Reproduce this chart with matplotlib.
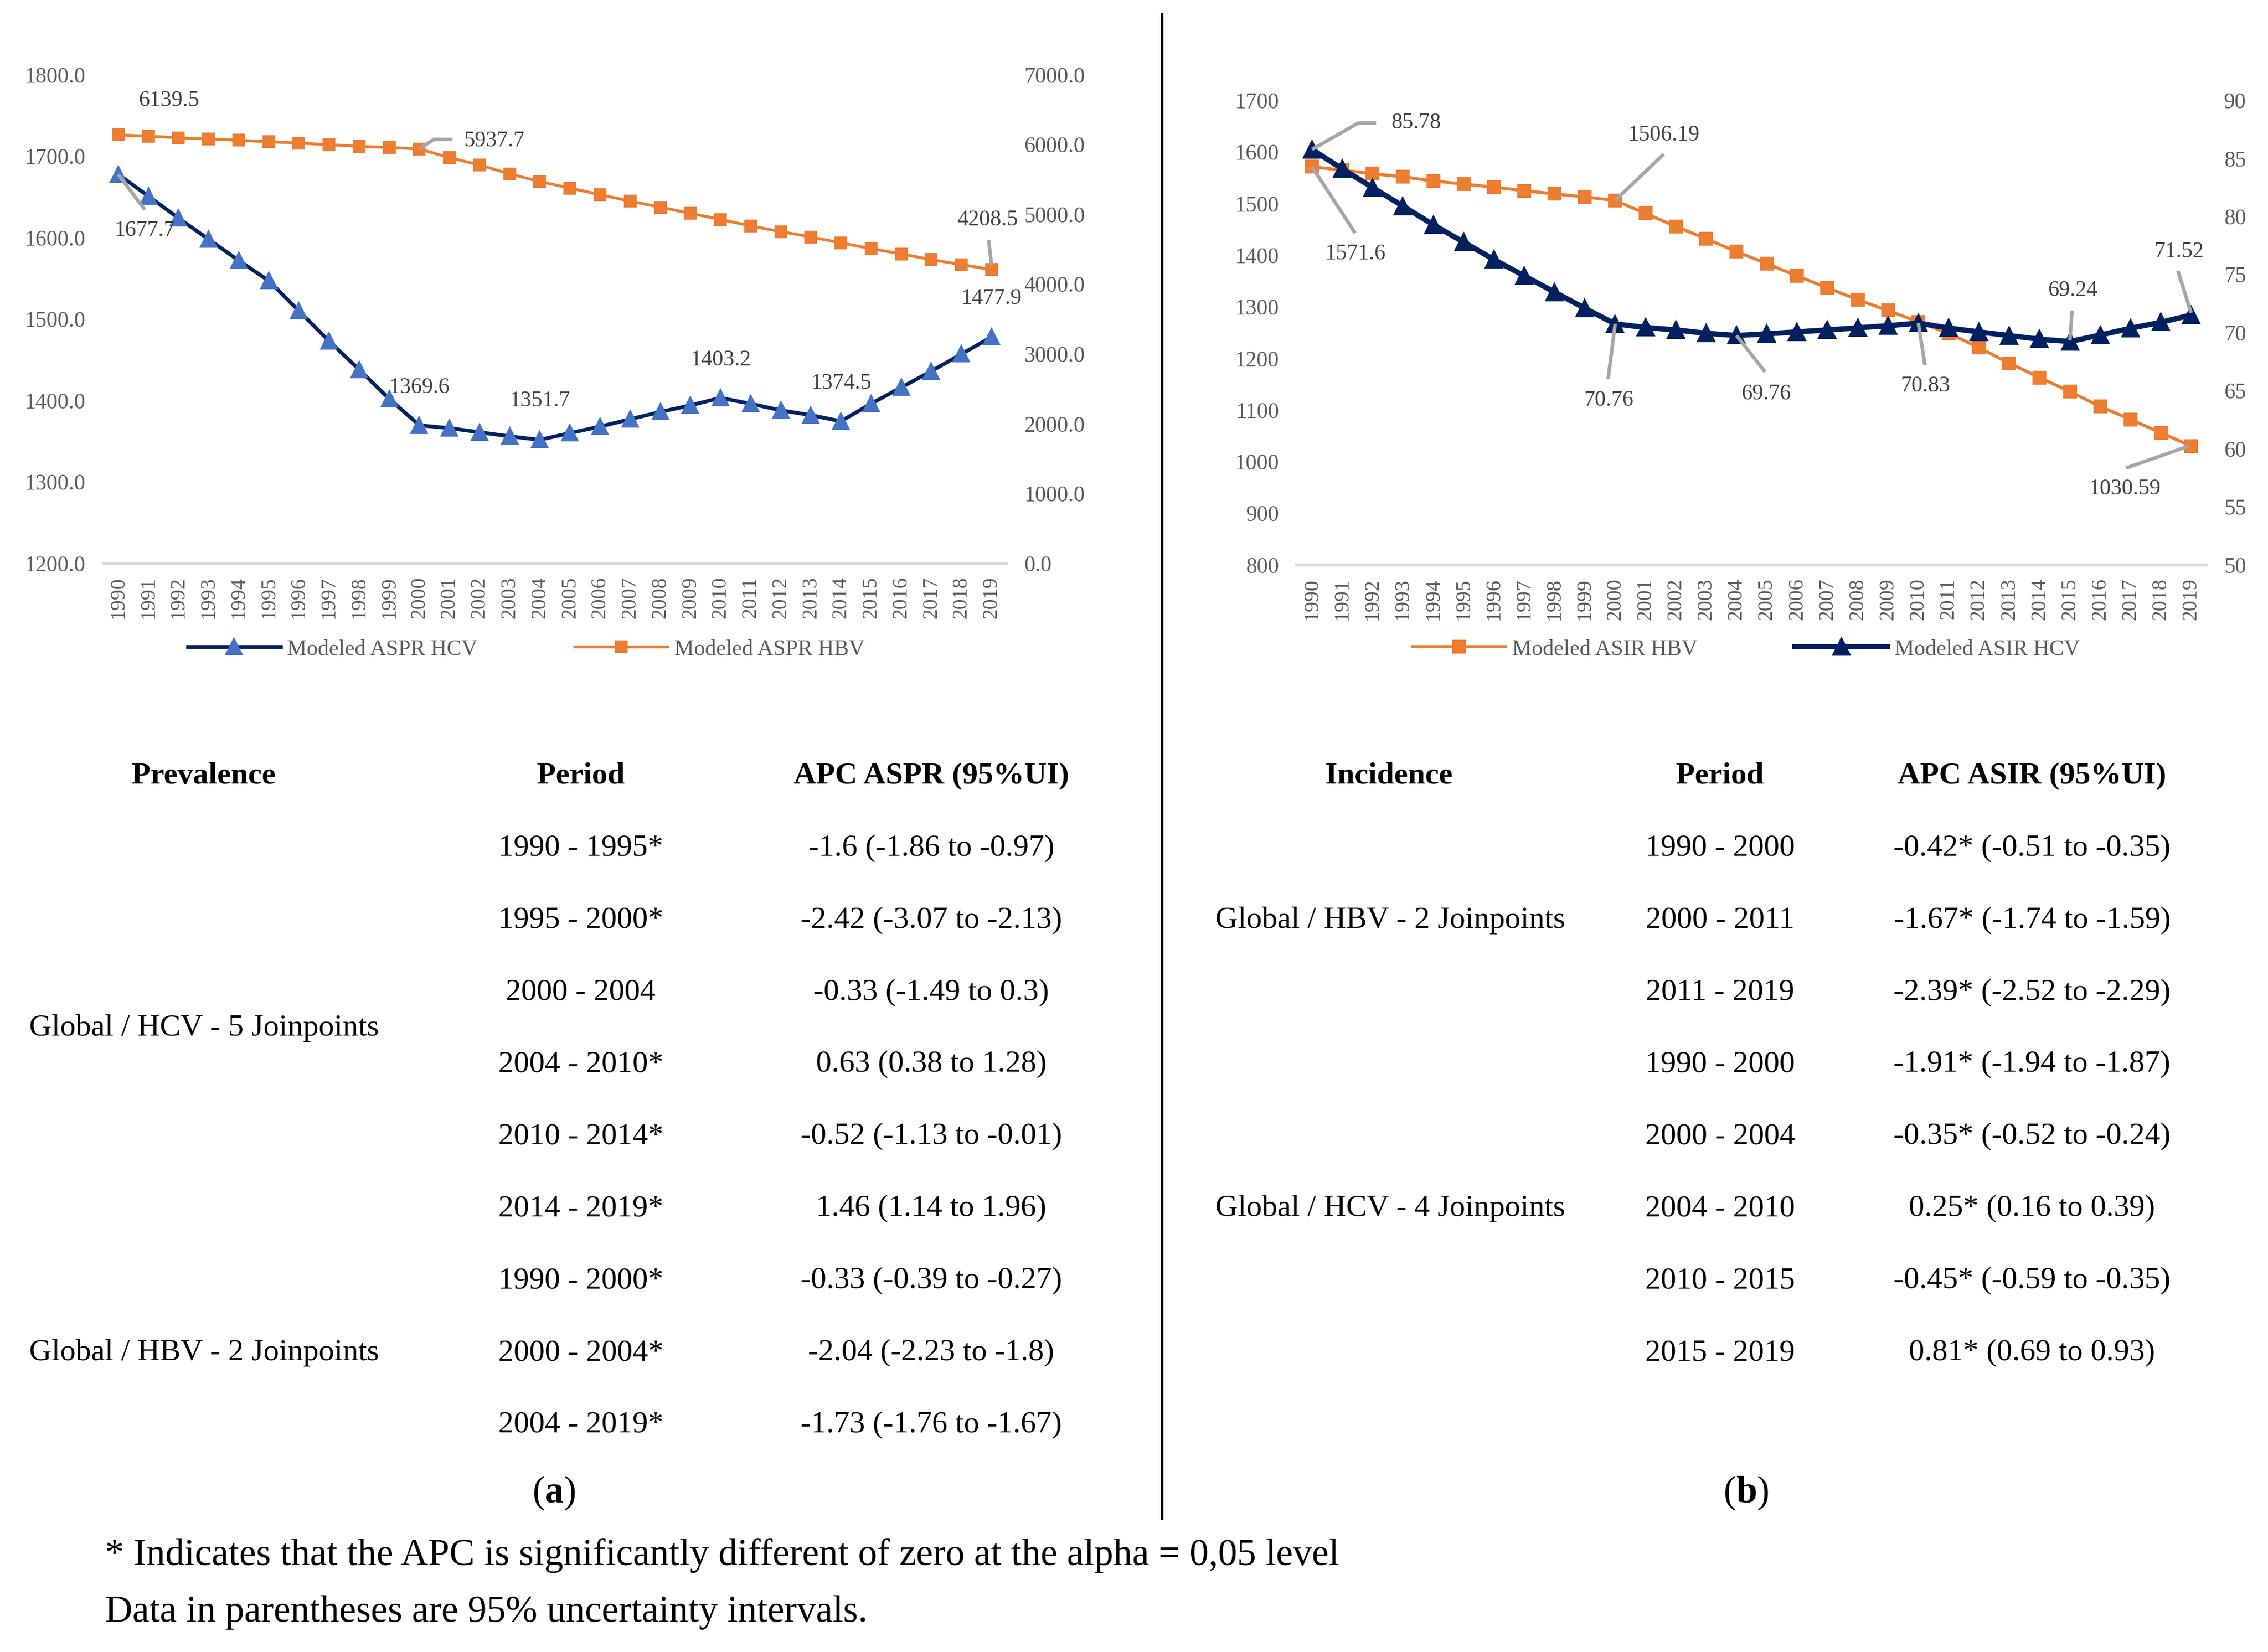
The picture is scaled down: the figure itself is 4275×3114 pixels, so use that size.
import numpy as np
import matplotlib
matplotlib.use('Agg')
import matplotlib.pyplot as plt
from matplotlib.lines import Line2D
from matplotlib.text import Annotation
from matplotlib.transforms import ScaledTranslation

plt.rcParams['font.family'] = ['Liberation Serif', 'DejaVu Serif']

# --- data ---
years = [str(y) for y in range(1990, 2020)]

aspr_hcv = [1677.7, 1651, 1624, 1598, 1572, 1547, 1510, 1473, 1438, 1402,
            1369.6, 1366, 1361, 1356, 1351.7, 1360, 1368, 1377, 1386, 1394,
            1403.2, 1396, 1388, 1382, 1374.5, 1396, 1416, 1436, 1457, 1477.9]
aspr_hbv = [6139.5, 6121, 6098, 6081, 6063, 6040, 6022, 5999, 5976, 5958,
            5937.7, 5813, 5708, 5580, 5470, 5377, 5283, 5190, 5103, 5016,
            4928, 4835, 4754, 4678, 4591, 4510, 4434, 4352, 4282, 4208.5]

asir_hbv = [1571.6, 1565, 1558, 1552, 1544, 1538, 1532, 1525, 1519, 1513,
            1506.19, 1481, 1456, 1432, 1407, 1384, 1360, 1337, 1314, 1293,
            1271, 1249, 1221, 1191, 1163, 1136, 1107, 1082, 1056, 1030.59]
asir_hcv = [85.78, 84.1, 82.5, 80.9, 79.3, 77.8, 76.3, 74.9, 73.5, 72.1,
            70.76, 70.45, 70.24, 69.95, 69.76, 69.9, 70.07, 70.24, 70.42, 70.6,
            70.83, 70.4, 70.07, 69.75, 69.44, 69.24, 69.8, 70.38, 70.9, 71.52]

prev_groups = ['Global / HCV - 5 Joinpoints', 'Global / HBV - 2 Joinpoints']
prev_group_rows = [2.5, 7]
prev_periods = ['1990 - 1995*', '1995 - 2000*', '2000 - 2004', '2004 - 2010*',
                '2010 - 2014*', '2014 - 2019*', '1990 - 2000*', '2000 - 2004*',
                '2004 - 2019*']
prev_apc = ['-1.6 (-1.86 to -0.97)', '-2.42 (-3.07 to -2.13)',
            '-0.33 (-1.49 to 0.3)', '0.63 (0.38 to 1.28)',
            '-0.52 (-1.13 to -0.01)', '1.46 (1.14 to 1.96)',
            '-0.33 (-0.39 to -0.27)', '-2.04 (-2.23 to -1.8)',
            '-1.73 (-1.76 to -1.67)']

inc_groups = ['Global / HBV - 2 Joinpoints', 'Global / HCV - 4 Joinpoints']
inc_group_rows = [1, 5]
inc_periods = ['1990 - 2000', '2000 - 2011', '2011 - 2019', '1990 - 2000',
               '2000 - 2004', '2004 - 2010', '2010 - 2015', '2015 - 2019']
inc_apc = ['-0.42* (-0.51 to -0.35)', '-1.67* (-1.74 to -1.59)',
           '-2.39* (-2.52 to -2.29)', '-1.91* (-1.94 to -1.87)',
           '-0.35* (-0.52 to -0.24)', '0.25* (0.16 to 0.39)',
           '-0.45* (-0.59 to -0.35)', '0.81* (0.69 to 0.93)']

NAVY = '#002060'
BLUE = '#4472C4'
ORANGE = '#ED7D31'
TICK = '#595959'
LAB = '#404040'
LEAD = '#A6A6A6'

fig = plt.figure(figsize=(14.25, 10.38), dpi=300)
x = np.arange(len(years))


def setup(ax, ax2):
    for a in (ax, ax2):
        for s in a.spines.values():
            s.set_visible(False)
        a.tick_params(length=0, labelsize=10, labelcolor=TICK, pad=8)
    ax.spines['bottom'].set_visible(True)
    ax.spines['bottom'].set_color('#D9D9D9')
    ax.spines['bottom'].set_linewidth(1.4)
    ax.set_xlim(-0.5, len(years) - 0.5)
    ax.set_xticks(x)
    ax.set_xticklabels(years, rotation=90, fontsize=9.5)
    ax.tick_params(axis='x', pad=6)


# data label with optional grey leader line (leader points in offset pt)
def label(ax, i, y, txt, dx, dy, leader=None):
    ax.annotate(txt, (i, y), xytext=(dx, dy), textcoords='offset points',
                ha='center', va='center', fontsize=10, color=LAB)
    if leader:
        tr = fig.dpi_scale_trans + ScaledTranslation(i, y, ax.transData)
        xs = [p[0] / 72 for p in leader]
        ys = [p[1] / 72 for p in leader]
        fig.add_artist(Line2D(xs, ys, transform=tr, color=LEAD, lw=1.6,
                              solid_capstyle='butt', zorder=5))


# ---------- (a) prevalence ----------
axa = fig.add_axes([0.0455, 0.659, 0.3983, 0.2957])
axa2 = axa.twinx()
setup(axa, axa2)
axa.plot(x, aspr_hcv, color=NAVY, lw=1.7, marker='^', ms=6.8,
         mfc=BLUE, mec=BLUE)
axa2.plot(x, aspr_hbv, color=ORANGE, lw=1.3, marker='s', ms=5,
          mfc=ORANGE, mec=ORANGE)
axa.set_ylim(1200, 1800)
axa.set_yticks(np.arange(1200, 1801, 100))
axa.set_yticklabels([f'{v:.1f}' for v in np.arange(1200, 1801, 100)])
axa2.set_ylim(0, 7000)
axa2.set_yticks(np.arange(0, 7001, 1000))
axa2.set_yticklabels([f'{v:.1f}' for v in np.arange(0, 7001, 1000)])

label(axa2, 0, aspr_hbv[0], '6139.5', 23, 15.5)
label(axa, 0, aspr_hcv[0], '1677.7', 12, -25.5, [(0, 0), (12, -16)])
label(axa2, 10, aspr_hbv[10], '5937.7', 34, 3.5,
      [(0, 0), (6.5, 4.3), (15, 4.3)])
label(axa, 10, aspr_hcv[10], '1369.6', 0, 17)
label(axa, 14, aspr_hcv[14], '1351.7', 0, 17.5)
label(axa, 20, aspr_hcv[20], '1403.2', 0, 17)
label(axa, 24, aspr_hcv[24], '1374.5', 0, 17)
label(axa, 29, aspr_hcv[29], '1477.9', 0, 17.5)
label(axa2, 29, aspr_hbv[29], '4208.5', -1.7, 22.5, [(0, 2), (-1.3, 13.5)])

fig.legend([Line2D([], [], color=NAVY, lw=1.7, marker='^', ms=6.8,
                   mfc=BLUE, mec=BLUE),
            Line2D([], [], color=ORANGE, lw=1.3, marker='s', ms=5,
                   mfc=ORANGE, mec=ORANGE)],
           ['Modeled ASPR HCV', 'Modeled ASPR HBV'],
           loc='center', bbox_to_anchor=(0.232, 0.607), ncol=2,
           frameon=False, fontsize=10, labelcolor=TICK, handlelength=4.2,
           columnspacing=4.4, handletextpad=0.3)

# ---------- (b) incidence ----------
axb = fig.add_axes([0.5718, 0.658, 0.401, 0.2812])
axb2 = axb.twinx()
setup(axb, axb2)
axb.plot(x, asir_hbv, color=ORANGE, lw=1.4, marker='s', ms=5.2,
         mfc=ORANGE, mec=ORANGE)
axb2.plot(x, asir_hcv, color=NAVY, lw=2.4, marker='^', ms=7.2,
          mfc=NAVY, mec=NAVY)
axb.set_ylim(800, 1700)
axb.set_yticks(np.arange(800, 1701, 100))
axb2.set_ylim(50, 90)
axb2.set_yticks(np.arange(50, 91, 5))

label(axb2, 0, asir_hcv[0], '85.78', 47, 12,
      [(0, 0), (21, 12), (29, 12)])
label(axb, 0, asir_hbv[0], '1571.6', 19.5, -39.5, [(0, 0), (19.5, -30)])
label(axb, 10, asir_hbv[10], '1506.19', 22, 29.5, [(0, 0), (22, 21)])
label(axb2, 10, asir_hcv[10], '70.76', -3, -34.5, [(0, 0), (-3.2, -25)])
label(axb2, 14, asir_hcv[14], '69.76', 13.5, -26.5, [(0, 0), (13, -16.5)])
label(axb2, 20, asir_hcv[20], '70.83', 3.3, -28.5, [(0, 0), (3, -19)])
label(axb2, 25, asir_hcv[25], '69.24', 1.3, 23, [(0, 0.5), (1, 14)])
label(axb2, 29, asir_hcv[29], '71.52', -5.6, 28.5, [(0, 1), (-6, 20)])
label(axb, 29, asir_hbv[29], '1030.59', -30, -19.5, [(-1, 0), (-29.5, -10)])

fig.legend([Line2D([], [], color=ORANGE, lw=1.4, marker='s', ms=5.2,
                   mfc=ORANGE, mec=ORANGE),
            Line2D([], [], color=NAVY, lw=2.4, marker='^', ms=7.2,
                   mfc=NAVY, mec=NAVY)],
           ['Modeled ASIR HBV', 'Modeled ASIR HCV'],
           loc='center', bbox_to_anchor=(0.77, 0.607), ncol=2,
           frameon=False, fontsize=10, labelcolor=TICK, handlelength=4.2,
           columnspacing=4.4, handletextpad=0.3)

# ---------- tables ----------
head_y = 0.5302
row_y = lambda r: 1 - (1598.7 + 135.9 * r) / 3114
TS = 14

fig.text(0.0898, head_y, 'Prevalence', ha='center', va='center',
         fontsize=TS, fontweight='bold')
fig.text(0.2560, head_y, 'Period', ha='center', va='center',
         fontsize=TS, fontweight='bold')
fig.text(0.4106, head_y, 'APC ASPR (95%UI)', ha='center', va='center',
         fontsize=TS, fontweight='bold')
for r, (p, a) in enumerate(zip(prev_periods, prev_apc)):
    fig.text(0.2560, row_y(r), p, ha='center', va='center', fontsize=TS)
    fig.text(0.4106, row_y(r), a, ha='center', va='center', fontsize=TS)
for g, r in zip(prev_groups, prev_group_rows):
    fig.text(0.0128, row_y(r), g, ha='left', va='center', fontsize=TS)

fig.text(0.6123, head_y, 'Incidence', ha='center', va='center',
         fontsize=TS, fontweight='bold')
fig.text(0.7584, head_y, 'Period', ha='center', va='center',
         fontsize=TS, fontweight='bold')
fig.text(0.8960, head_y, 'APC ASIR (95%UI)', ha='center', va='center',
         fontsize=TS, fontweight='bold')
for r, (p, a) in enumerate(zip(inc_periods, inc_apc)):
    fig.text(0.7584, row_y(r), p, ha='center', va='center', fontsize=TS)
    fig.text(0.8960, row_y(r), a, ha='center', va='center', fontsize=TS)
for g, r in zip(inc_groups, inc_group_rows):
    fig.text(0.5359, row_y(r), g, ha='left', va='center', fontsize=TS)

# panel letters: bold letter in regular parentheses
for px, letter in [(0.2444, 'a'), (0.770, 'b')]:
    t = fig.text(px, 0.0963, letter, ha='center', va='center', fontsize=17,
                 fontweight='bold')
    fig.add_artist(Annotation('(', xy=(0, 0.5), xycoords=t, ha='right',
                              va='center', fontsize=17))
    fig.add_artist(Annotation(')', xy=(1, 0.5), xycoords=t, ha='left',
                              va='center', fontsize=17))

# divider
fig.add_artist(Line2D([0.5122, 0.5122], [0.081, 0.9913], color='black',
                      lw=1.2, transform=fig.transFigure))

# footnotes
fig.text(0.0463, 0.0584,
         '* Indicates that the APC is significantly different of zero at the alpha = 0,05 level',
         ha='left', va='center', fontsize=17.2)
fig.text(0.0463, 0.0238, 'Data in parentheses are 95% uncertainty intervals.',
         ha='left', va='center', fontsize=17.2)

fig.savefig('out.png', dpi=300)
